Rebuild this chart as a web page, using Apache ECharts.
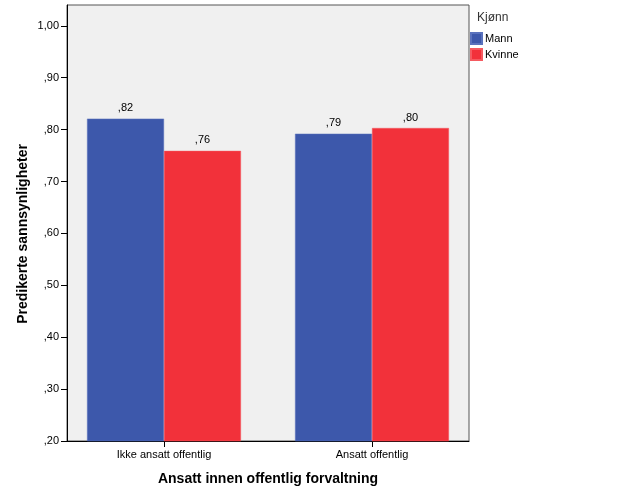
<!DOCTYPE html>
<html><head><meta charset="utf-8">
<script src="https://cdn.jsdelivr.net/npm/echarts@6/dist/echarts.min.js"></script>
<style>html,body{margin:0;padding:0;background:#fff}#c{width:626px;height:501px}</style>
</head><body><div id="c"></div>
<script>
const categories = ['Ikke ansatt offentlig', 'Ansatt offentlig'];
const mann = [0.821, 0.792];
const kvinne = [0.759, 0.803];
const yTicks = [0.2, 0.3, 0.4, 0.5, 0.6, 0.7, 0.8, 0.9, 1.0];
const seriesNames = ['Mann', 'Kvinne'];
const legendTitle = 'Kjønn';
const xTitle = 'Ansatt innen offentlig forvaltning';
const yTitle = 'Predikerte sannsynligheter';

const FONT = 'Liberation Sans, Arial, sans-serif';
const fmt = v => {
  let s = v.toFixed(2).replace('.', ',');
  if (s.startsWith('0,')) s = s.slice(1);
  return s;
};
const chart = echarts.init(document.getElementById('c'), null, {renderer: 'canvas'});
const yMin = 0.2, yMax = 1.04;
chart.setOption({
  animation: false,
  textStyle: {fontFamily: FONT},
  title: {text: legendTitle, left: 477, top: 12, padding: 0, textStyle: {fontSize: 12, fontWeight: 'normal', color: '#333', fontFamily: FONT}},
  legend: {
    data: seriesNames, orient: 'vertical', left: 470, top: 32, itemWidth: 11, itemHeight: 11, itemGap: 3,
    icon: 'rect', textStyle: {fontSize: 11, color: '#000', fontFamily: FONT, padding: [0, 0, 0, -2]}, padding: 0
  },
  grid: [
    {left: 67, top: 5, width: 402, height: 436, show: true, backgroundColor: '#f0f0f0', borderColor: '#555', borderWidth: 1},
    {left: 60, top: 5, width: 416, height: 436, show: false}
  ],
  xAxis: [
    {gridIndex: 0, type: 'value', min: 0, max: 1, show: true, axisLine: {show: true, onZero: false, lineStyle: {color: '#000'}},
     axisTick: {show: false}, axisLabel: {show: false}, splitLine: {show: false}},
    {gridIndex: 1, type: 'category', data: categories, axisLine: {show: false},
     axisTick: {show: true, alignWithLabel: true, length: 6, lineStyle: {color: '#000'}},
     axisLabel: {fontSize: 11, color: '#000', margin: 8, fontFamily: FONT}}
  ],
  yAxis: [
    {gridIndex: 0, type: 'value', min: yMin, max: yMax,
     axisLine: {show: true, lineStyle: {color: '#000'}},
     axisTick: {show: true, length: 6, lineStyle: {color: '#000'}, customValues: yTicks},
     axisLabel: {fontSize: 11, color: '#000', margin: 8, formatter: fmt, customValues: yTicks, fontFamily: FONT},
     splitLine: {show: false}},
    {gridIndex: 1, type: 'value', min: yMin, max: yMax, show: false, splitLine: {show: false}}
  ],
  series: [
    {name: seriesNames[0], type: 'bar', xAxisIndex: 1, yAxisIndex: 1, data: mann, barGap: '0%', barCategoryGap: '26%',
     itemStyle: {color: '#3d58ab', borderColor: '#5a72bd', borderWidth: 0.5},
     label: {show: true, position: 'top', distance: 5, fontSize: 11, color: '#000', formatter: p => fmt(p.value), fontFamily: FONT}},
    {name: seriesNames[1], type: 'bar', xAxisIndex: 1, yAxisIndex: 1, data: kvinne, barGap: '0%', barCategoryGap: '26%',
     itemStyle: {color: '#f2313a', borderColor: '#f55a60', borderWidth: 0.5},
     label: {show: true, position: 'top', distance: 5, fontSize: 11, color: '#000', formatter: p => fmt(p.value), fontFamily: FONT}}
  ],
  graphic: [
    {type: 'text', x: 268, y: 479, style: {text: xTitle, font: 'bold 14px ' + FONT, fill: '#000', textAlign: 'center', textVerticalAlign: 'middle'}},
    {type: 'text', x: 23, y: 234, rotation: Math.PI / 2, style: {text: yTitle, font: 'bold 14px ' + FONT, fill: '#000', textAlign: 'center', textVerticalAlign: 'middle'}}
  ]
});
</script></body></html>
